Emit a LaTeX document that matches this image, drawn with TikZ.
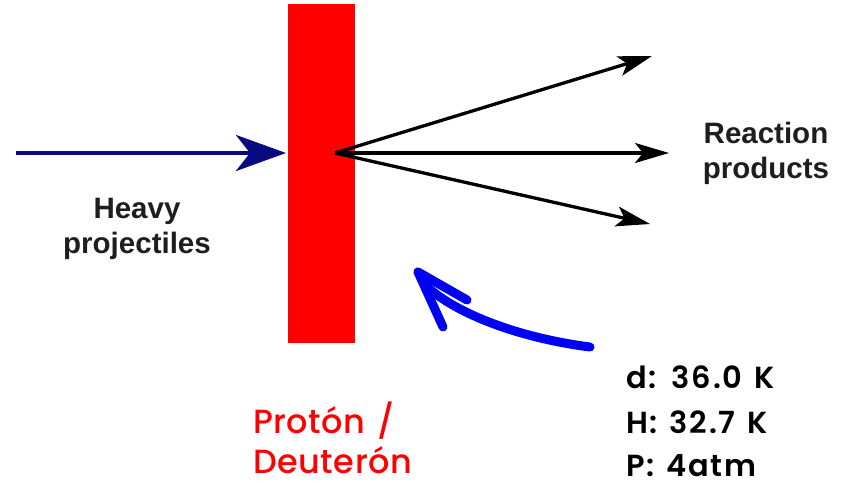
\documentclass[tikz,border=0pt]{standalone}
\usepackage{fontspec}
\setmainfont{Liberation Sans}
\newfontfamily\popfont{Poppins SemiBold}[LetterSpace=6, WordSpace=1.3]
\newfontfamily\popred{Poppins Medium}[LetterSpace=1.5, WordSpace=1.3]
\usetikzlibrary{arrows.meta}
\definecolor{navy}{HTML}{0A0A80}
\definecolor{hand}{HTML}{0000F5}
\definecolor{txt}{HTML}{1E1E1E}
\tikzset{
  lbl/.style={font=\fontsize{29.5}{31}\selectfont\bfseries, text=txt, inner sep=0pt},
  info/.style={font=\popfont\fontsize{30.5}{33}\selectfont, text=black, inner sep=0pt, anchor=base west},
  redlbl/.style={font=\popred\fontsize{33.5}{36}\selectfont, text=red, inner sep=0pt, anchor=base west},
  prod/.style={line width=3.3pt, -{Stealth[length=34pt, width=20pt, inset=8pt]}},
  handline/.style={hand, line width=9pt, line cap=round, line join=round}
}
\begin{document}
\begin{tikzpicture}[x=1pt, y=-1pt]
\useasboundingbox (0,0) rectangle (841,485);
\fill[white] (0,0) rectangle (841,485);
% target bar
\node[fill=red, minimum width=67pt, minimum height=339pt, inner sep=0pt, anchor=north west] (bar) at (288,4) {};
% incoming beam
\coordinate (src) at (16,153);
\coordinate (hit) at (286,153);
\draw[navy, line width=4.5pt, -{Stealth[length=50pt, width=36pt, inset=14pt]}] (src) -- (hit);
% products
\coordinate (o) at (335,153);
\coordinate (t1) at (652,56);
\coordinate (t2) at (669,153);
\coordinate (t3) at (650,224);
\draw[prod] (o) -- (t1);
\draw[prod] (o) -- (t2);
\draw[prod] (o) -- (t3);
% labels
\node[lbl, anchor=base] (h1) at (137,218) {Heavy};
\node[lbl, anchor=base] (h2) at (137,253) {projectiles};
\node[lbl, anchor=base] (r1) at (766,143) {Reaction};
\node[lbl, anchor=base] (r2) at (766,178) {products};
% hand-drawn arrow
\coordinate (ha) at (590,347);
\coordinate (hb) at (418,272);
\coordinate (hc) at (467,300);
\coordinate (hd) at (443,327);
\draw[handline] (ha) .. controls (520,338) and (455,314) .. (424,284);
\draw[handline] (hb) -- (hc);
\draw[handline] (hb) -- (hd);
% red label
\node[redlbl] (p1) at (253,433) {Protón /};
\node[redlbl] (p2) at (253,473) {Deuterón};
% info
\node[info] (i1) at (626,388) {d: 36.0 K};
\node[info] (i2) at (626,433) {H: 32.7 K};
\node[info] (i3) at (626,476) {P: 4atm};
\end{tikzpicture}
\end{document}
